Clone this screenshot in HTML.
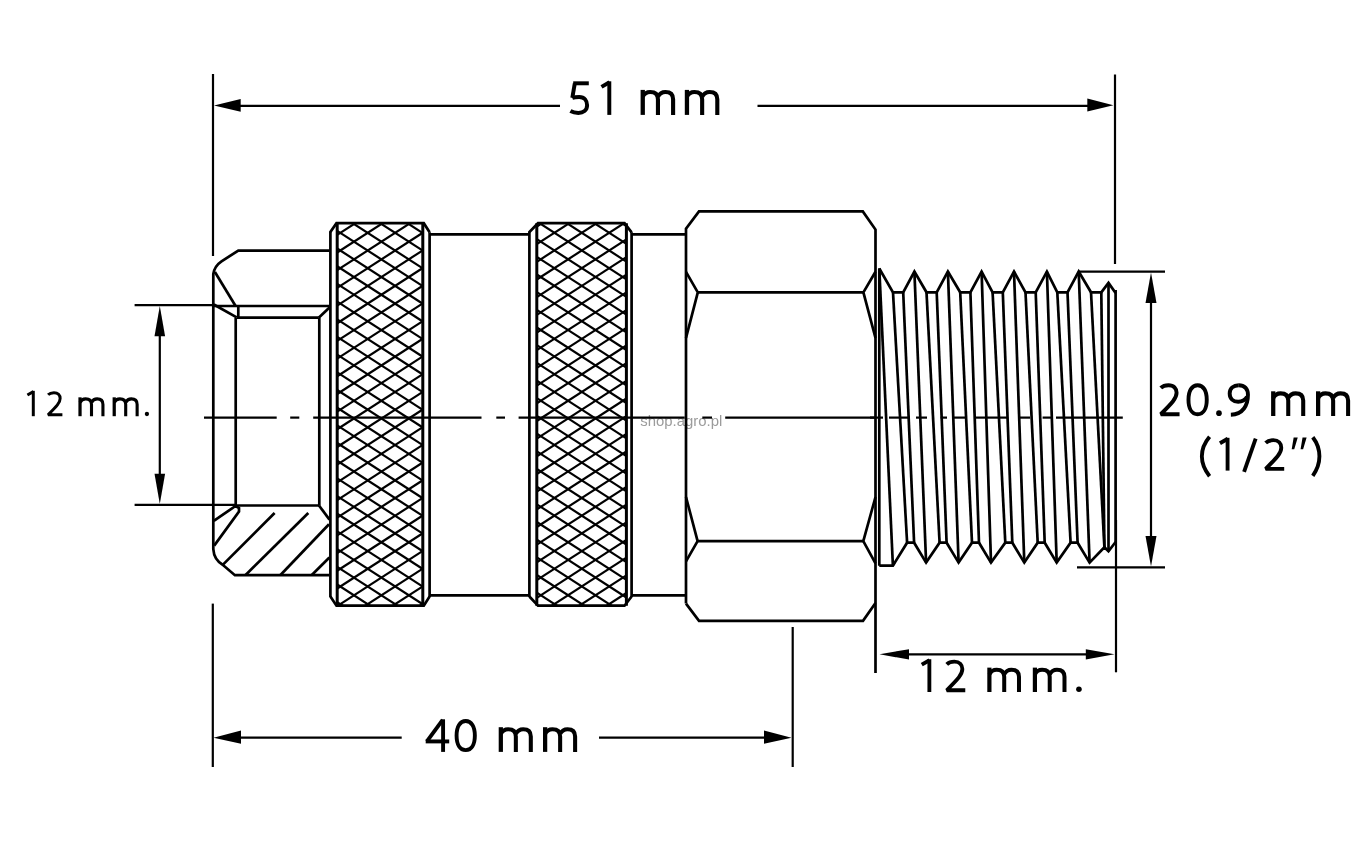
<!DOCTYPE html>
<html><head><meta charset="utf-8"><style>
html,body{margin:0;padding:0;background:#fff;}
svg{display:block;} .wm{will-change:transform;}
text{font-family:"Liberation Sans",sans-serif;fill:#000;}
</style></head><body>
<svg width="1363" height="845" viewBox="0 0 1363 845">
<rect width="1363" height="845" fill="#fff"/>
<g class="wm" opacity="0.995"><text x="640.3" y="425.5" textLength="82" lengthAdjust="spacingAndGlyphs" font-size="14.2" style="fill:#9c9c9c">shop.agro.pl</text></g>
<g stroke="#000" stroke-linecap="butt" stroke-linejoin="miter" fill="none">
<path d="M329.5,250.6 L238.3,250.6 L221.5,261.3 Q214.5,266 213.3,274 L213.3,549.2 Q214,560 223,565 L234.9,575.2 L329.5,575.2" stroke-width="2.7" fill="none"/>
<line x1="214.9" y1="272.0" x2="235.6" y2="306.0" stroke-width="2.7"/>
<line x1="213.3" y1="306.0" x2="329.5" y2="306.0" stroke-width="2.7"/>
<line x1="213.8" y1="304.5" x2="236.7" y2="317.4" stroke-width="2.7"/>
<line x1="238.3" y1="306.0" x2="238.3" y2="318.5" stroke-width="2.7"/>
<line x1="236.7" y1="317.7" x2="318.7" y2="317.7" stroke-width="2.7"/>
<line x1="318.7" y1="317.7" x2="329.5" y2="307.5" stroke-width="2.7"/>
<line x1="235.7" y1="317.7" x2="235.7" y2="505.5" stroke-width="2.7"/>
<line x1="319.3" y1="317.7" x2="319.3" y2="505.5" stroke-width="2.7"/>
<line x1="235.5" y1="505.5" x2="319.0" y2="505.5" stroke-width="2.7"/>
<line x1="319.0" y1="505.5" x2="329.5" y2="519.6" stroke-width="2.7"/>
<path d="M213.8,520.8 L235.5,506.0 L239.0,508.0 L239.0,511.5 L214.2,545.6" stroke-width="2.7" fill="none"/>
<line x1="223.0" y1="564.6" x2="274.6" y2="513.0" stroke-width="2.7"/>
<line x1="245.6" y1="575.0" x2="308.3" y2="513.0" stroke-width="2.7"/>
<line x1="280.5" y1="575.0" x2="329.0" y2="524.3" stroke-width="2.7"/>
<line x1="311.8" y1="575.0" x2="329.4" y2="557.5" stroke-width="2.7"/>
<path d="M330.4,232.3 L330.4,232.0 L336.5,223.2 L423.8,223.2 L429.6,232.3 L429.6,232.3" stroke-width="2.7" fill="none"/>
<line x1="330.4" y1="232.0" x2="330.4" y2="597.0" stroke-width="2.7"/>
<line x1="429.6" y1="232.3" x2="429.6" y2="597.0" stroke-width="2.7"/>
<path d="M330.4,596.5 L336.5,605.7 L423.8,605.7 L429.6,596.5" stroke-width="2.7" fill="none"/>
<line x1="337.2" y1="223.2" x2="337.2" y2="605.7" stroke-width="3.0"/>
<line x1="422.8" y1="223.2" x2="422.8" y2="605.7" stroke-width="3.0"/>
<clipPath id="c381"><rect x="337.2" y="223.2" width="85.60000000000002" height="382.50000000000006"/></clipPath>
<g clip-path="url(#c381)">
<line x1="337.2" y1="177.8" x2="422.8" y2="233.1" stroke-width="2.2"/>
<line x1="337.2" y1="234.9" x2="422.8" y2="179.6" stroke-width="2.2"/>
<line x1="337.2" y1="195.5" x2="422.8" y2="250.7" stroke-width="2.2"/>
<line x1="337.2" y1="252.5" x2="422.8" y2="197.3" stroke-width="2.2"/>
<line x1="337.2" y1="213.2" x2="422.8" y2="268.4" stroke-width="2.2"/>
<line x1="337.2" y1="270.2" x2="422.8" y2="215.0" stroke-width="2.2"/>
<line x1="337.2" y1="230.9" x2="422.8" y2="286.1" stroke-width="2.2"/>
<line x1="337.2" y1="287.9" x2="422.8" y2="232.7" stroke-width="2.2"/>
<line x1="337.2" y1="248.5" x2="422.8" y2="303.8" stroke-width="2.2"/>
<line x1="337.2" y1="305.6" x2="422.8" y2="250.3" stroke-width="2.2"/>
<line x1="337.2" y1="266.2" x2="422.8" y2="321.5" stroke-width="2.2"/>
<line x1="337.2" y1="323.3" x2="422.8" y2="268.0" stroke-width="2.2"/>
<line x1="337.2" y1="283.9" x2="422.8" y2="339.1" stroke-width="2.2"/>
<line x1="337.2" y1="340.9" x2="422.8" y2="285.7" stroke-width="2.2"/>
<line x1="337.2" y1="301.6" x2="422.8" y2="356.8" stroke-width="2.2"/>
<line x1="337.2" y1="358.6" x2="422.8" y2="303.4" stroke-width="2.2"/>
<line x1="337.2" y1="319.3" x2="422.8" y2="374.5" stroke-width="2.2"/>
<line x1="337.2" y1="376.3" x2="422.8" y2="321.1" stroke-width="2.2"/>
<line x1="337.2" y1="336.9" x2="422.8" y2="392.2" stroke-width="2.2"/>
<line x1="337.2" y1="394.0" x2="422.8" y2="338.7" stroke-width="2.2"/>
<line x1="337.2" y1="354.6" x2="422.8" y2="409.9" stroke-width="2.2"/>
<line x1="337.2" y1="411.7" x2="422.8" y2="356.4" stroke-width="2.2"/>
<line x1="337.2" y1="372.3" x2="422.8" y2="427.5" stroke-width="2.2"/>
<line x1="337.2" y1="429.3" x2="422.8" y2="374.1" stroke-width="2.2"/>
<line x1="337.2" y1="390.0" x2="422.8" y2="445.2" stroke-width="2.2"/>
<line x1="337.2" y1="447.0" x2="422.8" y2="391.8" stroke-width="2.2"/>
<line x1="337.2" y1="407.7" x2="422.8" y2="462.9" stroke-width="2.2"/>
<line x1="337.2" y1="464.7" x2="422.8" y2="409.5" stroke-width="2.2"/>
<line x1="337.2" y1="425.3" x2="422.8" y2="480.6" stroke-width="2.2"/>
<line x1="337.2" y1="482.4" x2="422.8" y2="427.1" stroke-width="2.2"/>
<line x1="337.2" y1="443.0" x2="422.8" y2="498.3" stroke-width="2.2"/>
<line x1="337.2" y1="500.1" x2="422.8" y2="444.8" stroke-width="2.2"/>
<line x1="337.2" y1="460.7" x2="422.8" y2="515.9" stroke-width="2.2"/>
<line x1="337.2" y1="517.7" x2="422.8" y2="462.5" stroke-width="2.2"/>
<line x1="337.2" y1="478.4" x2="422.8" y2="533.6" stroke-width="2.2"/>
<line x1="337.2" y1="535.4" x2="422.8" y2="480.2" stroke-width="2.2"/>
<line x1="337.2" y1="496.1" x2="422.8" y2="551.3" stroke-width="2.2"/>
<line x1="337.2" y1="553.1" x2="422.8" y2="497.9" stroke-width="2.2"/>
<line x1="337.2" y1="513.7" x2="422.8" y2="569.0" stroke-width="2.2"/>
<line x1="337.2" y1="570.8" x2="422.8" y2="515.5" stroke-width="2.2"/>
<line x1="337.2" y1="531.4" x2="422.8" y2="586.7" stroke-width="2.2"/>
<line x1="337.2" y1="588.5" x2="422.8" y2="533.2" stroke-width="2.2"/>
<line x1="337.2" y1="549.1" x2="422.8" y2="604.3" stroke-width="2.2"/>
<line x1="337.2" y1="606.1" x2="422.8" y2="550.9" stroke-width="2.2"/>
<line x1="337.2" y1="566.8" x2="422.8" y2="622.0" stroke-width="2.2"/>
<line x1="337.2" y1="623.8" x2="422.8" y2="568.6" stroke-width="2.2"/>
<line x1="337.2" y1="584.5" x2="422.8" y2="639.7" stroke-width="2.2"/>
<line x1="337.2" y1="641.5" x2="422.8" y2="586.3" stroke-width="2.2"/>
<line x1="337.2" y1="602.1" x2="422.8" y2="657.4" stroke-width="2.2"/>
<line x1="337.2" y1="659.2" x2="422.8" y2="603.9" stroke-width="2.2"/>
</g>
<path d="M529.4,232.3 L529.4,232.0 L538.0,223.2 L624.5,223.2 L631.6,232.3 L631.6,232.3" stroke-width="2.7" fill="none"/>
<line x1="529.4" y1="232.0" x2="529.4" y2="597.0" stroke-width="2.7"/>
<line x1="631.6" y1="232.3" x2="631.6" y2="597.0" stroke-width="2.7"/>
<path d="M529.4,596.5 L538.0,605.7 L624.5,605.7 L631.6,596.5" stroke-width="2.7" fill="none"/>
<line x1="536.8" y1="223.2" x2="536.8" y2="605.7" stroke-width="3.0"/>
<line x1="626.4" y1="223.2" x2="626.4" y2="605.7" stroke-width="3.0"/>
<clipPath id="c581"><rect x="536.8" y="223.2" width="89.60000000000002" height="382.50000000000006"/></clipPath>
<g clip-path="url(#c581)">
<line x1="536.8" y1="168.4" x2="626.4" y2="226.2" stroke-width="2.2"/>
<line x1="536.8" y1="226.5" x2="626.4" y2="168.7" stroke-width="2.2"/>
<line x1="536.8" y1="186.1" x2="626.4" y2="243.9" stroke-width="2.2"/>
<line x1="536.8" y1="244.2" x2="626.4" y2="186.3" stroke-width="2.2"/>
<line x1="536.8" y1="203.8" x2="626.4" y2="261.6" stroke-width="2.2"/>
<line x1="536.8" y1="261.8" x2="626.4" y2="204.0" stroke-width="2.2"/>
<line x1="536.8" y1="221.4" x2="626.4" y2="279.3" stroke-width="2.2"/>
<line x1="536.8" y1="279.5" x2="626.4" y2="221.7" stroke-width="2.2"/>
<line x1="536.8" y1="239.1" x2="626.4" y2="296.9" stroke-width="2.2"/>
<line x1="536.8" y1="297.2" x2="626.4" y2="239.4" stroke-width="2.2"/>
<line x1="536.8" y1="256.8" x2="626.4" y2="314.6" stroke-width="2.2"/>
<line x1="536.8" y1="314.9" x2="626.4" y2="257.1" stroke-width="2.2"/>
<line x1="536.8" y1="274.5" x2="626.4" y2="332.3" stroke-width="2.2"/>
<line x1="536.8" y1="332.6" x2="626.4" y2="274.7" stroke-width="2.2"/>
<line x1="536.8" y1="292.2" x2="626.4" y2="350.0" stroke-width="2.2"/>
<line x1="536.8" y1="350.2" x2="626.4" y2="292.4" stroke-width="2.2"/>
<line x1="536.8" y1="309.8" x2="626.4" y2="367.7" stroke-width="2.2"/>
<line x1="536.8" y1="367.9" x2="626.4" y2="310.1" stroke-width="2.2"/>
<line x1="536.8" y1="327.5" x2="626.4" y2="385.3" stroke-width="2.2"/>
<line x1="536.8" y1="385.6" x2="626.4" y2="327.8" stroke-width="2.2"/>
<line x1="536.8" y1="345.2" x2="626.4" y2="403.0" stroke-width="2.2"/>
<line x1="536.8" y1="403.3" x2="626.4" y2="345.5" stroke-width="2.2"/>
<line x1="536.8" y1="362.9" x2="626.4" y2="420.7" stroke-width="2.2"/>
<line x1="536.8" y1="421.0" x2="626.4" y2="363.1" stroke-width="2.2"/>
<line x1="536.8" y1="380.6" x2="626.4" y2="438.4" stroke-width="2.2"/>
<line x1="536.8" y1="438.6" x2="626.4" y2="380.8" stroke-width="2.2"/>
<line x1="536.8" y1="398.2" x2="626.4" y2="456.1" stroke-width="2.2"/>
<line x1="536.8" y1="456.3" x2="626.4" y2="398.5" stroke-width="2.2"/>
<line x1="536.8" y1="415.9" x2="626.4" y2="473.7" stroke-width="2.2"/>
<line x1="536.8" y1="474.0" x2="626.4" y2="416.2" stroke-width="2.2"/>
<line x1="536.8" y1="433.6" x2="626.4" y2="491.4" stroke-width="2.2"/>
<line x1="536.8" y1="491.7" x2="626.4" y2="433.9" stroke-width="2.2"/>
<line x1="536.8" y1="451.3" x2="626.4" y2="509.1" stroke-width="2.2"/>
<line x1="536.8" y1="509.4" x2="626.4" y2="451.5" stroke-width="2.2"/>
<line x1="536.8" y1="469.0" x2="626.4" y2="526.8" stroke-width="2.2"/>
<line x1="536.8" y1="527.0" x2="626.4" y2="469.2" stroke-width="2.2"/>
<line x1="536.8" y1="486.6" x2="626.4" y2="544.5" stroke-width="2.2"/>
<line x1="536.8" y1="544.7" x2="626.4" y2="486.9" stroke-width="2.2"/>
<line x1="536.8" y1="504.3" x2="626.4" y2="562.1" stroke-width="2.2"/>
<line x1="536.8" y1="562.4" x2="626.4" y2="504.6" stroke-width="2.2"/>
<line x1="536.8" y1="522.0" x2="626.4" y2="579.8" stroke-width="2.2"/>
<line x1="536.8" y1="580.1" x2="626.4" y2="522.3" stroke-width="2.2"/>
<line x1="536.8" y1="539.7" x2="626.4" y2="597.5" stroke-width="2.2"/>
<line x1="536.8" y1="597.8" x2="626.4" y2="539.9" stroke-width="2.2"/>
<line x1="536.8" y1="557.4" x2="626.4" y2="615.2" stroke-width="2.2"/>
<line x1="536.8" y1="615.4" x2="626.4" y2="557.6" stroke-width="2.2"/>
<line x1="536.8" y1="575.0" x2="626.4" y2="632.9" stroke-width="2.2"/>
<line x1="536.8" y1="633.1" x2="626.4" y2="575.3" stroke-width="2.2"/>
<line x1="536.8" y1="592.7" x2="626.4" y2="650.5" stroke-width="2.2"/>
<line x1="536.8" y1="650.8" x2="626.4" y2="593.0" stroke-width="2.2"/>
<line x1="536.8" y1="610.4" x2="626.4" y2="668.2" stroke-width="2.2"/>
<line x1="536.8" y1="668.5" x2="626.4" y2="610.7" stroke-width="2.2"/>
</g>
<line x1="429.6" y1="234.3" x2="529.4" y2="234.3" stroke-width="2.7"/>
<line x1="631.6" y1="234.3" x2="686.0" y2="234.3" stroke-width="2.7"/>
<line x1="429.6" y1="595.3" x2="529.4" y2="595.3" stroke-width="2.7"/>
<line x1="631.6" y1="595.3" x2="686.0" y2="595.3" stroke-width="2.7"/>
<path d="M686.0,603.6 L686.0,228.7 L699.0,211.4 L862.8,211.4 L875.5,229.6 L875.5,673.0" stroke-width="2.7" fill="none"/>
<path d="M686.0,603.6 L699.0,620.8 L863.0,620.8 L875.5,603.0" stroke-width="2.7" fill="none"/>
<line x1="697.8" y1="292.3" x2="863.6" y2="292.3" stroke-width="2.7"/>
<line x1="697.8" y1="541.1" x2="863.3" y2="541.1" stroke-width="2.7"/>
<path d="M686.0,271.8 L697.8,292.4 L686.0,338.0" stroke-width="2.7" fill="none"/>
<path d="M875.5,271.8 L863.4,292.4 L875.5,338.0" stroke-width="2.7" fill="none"/>
<path d="M686.0,497.0 L697.6,541.1 L686.0,561.4" stroke-width="2.7" fill="none"/>
<path d="M875.5,497.0 L863.3,541.1 L875.5,563.3" stroke-width="2.7" fill="none"/>
<path d="M879.3,268.5 L893.0,292.3 L903.2,292.3 L914.4,271.6 L926.5,292.3 L936.7,292.3 L947.9,271.6 L960.2,292.3 L970.4,292.3 L981.6,271.6 L992.6,292.3 L1002.8,292.3 L1014.0,271.6 L1025.5,292.3 L1035.7,292.3 L1046.9,271.6 L1057.3,292.3 L1067.5,292.3 L1078.7,271.6 L1091.0,292.3 L1101.3,292.3 L1108.5,282.9 L1115.6,293.1" stroke-width="2.7" fill="none"/>
<line x1="879.3" y1="268.5" x2="879.3" y2="565.7" stroke-width="2.7"/>
<line x1="1115.6" y1="290.0" x2="1115.6" y2="545.0" stroke-width="2.7"/>
<path d="M879.3,565.7 L892.9,565.7 L907.1,542.7 L914.1,542.7 L926.1,562.6 L939.6,542.7 L946.6,542.7 L958.6,562.6 L972.0,542.7 L979.0,542.7 L991.0,562.6 L1005.3,542.7 L1012.3,542.7 L1024.3,562.6 L1037.7,542.7 L1044.7,542.7 L1056.7,562.6 L1070.6,542.7 L1077.6,542.7 L1089.6,562.6 L1104.4,547.2 L1108.5,551.3 L1115.6,542.0" stroke-width="2.7" fill="none"/>
<line x1="879.3" y1="268.5" x2="892.9" y2="565.7" stroke-width="2.7"/>
<line x1="893.0" y1="292.3" x2="907.1" y2="542.7" stroke-width="2.7"/>
<line x1="903.2" y1="292.3" x2="914.1" y2="542.7" stroke-width="2.7"/>
<line x1="914.4" y1="271.6" x2="926.1" y2="562.6" stroke-width="2.7"/>
<line x1="926.5" y1="292.3" x2="939.6" y2="542.7" stroke-width="2.7"/>
<line x1="936.7" y1="292.3" x2="946.6" y2="542.7" stroke-width="2.7"/>
<line x1="947.9" y1="271.6" x2="958.6" y2="562.6" stroke-width="2.7"/>
<line x1="960.2" y1="292.3" x2="972.0" y2="542.7" stroke-width="2.7"/>
<line x1="970.4" y1="292.3" x2="979.0" y2="542.7" stroke-width="2.7"/>
<line x1="981.6" y1="271.6" x2="991.0" y2="562.6" stroke-width="2.7"/>
<line x1="992.6" y1="292.3" x2="1005.3" y2="542.7" stroke-width="2.7"/>
<line x1="1002.8" y1="292.3" x2="1012.3" y2="542.7" stroke-width="2.7"/>
<line x1="1014.0" y1="271.6" x2="1024.3" y2="562.6" stroke-width="2.7"/>
<line x1="1025.5" y1="292.3" x2="1037.7" y2="542.7" stroke-width="2.7"/>
<line x1="1035.7" y1="292.3" x2="1044.7" y2="542.7" stroke-width="2.7"/>
<line x1="1046.9" y1="271.6" x2="1056.7" y2="562.6" stroke-width="2.7"/>
<line x1="1057.3" y1="292.3" x2="1070.6" y2="542.7" stroke-width="2.7"/>
<line x1="1067.5" y1="292.3" x2="1077.6" y2="542.7" stroke-width="2.7"/>
<line x1="1078.7" y1="271.6" x2="1089.6" y2="562.6" stroke-width="2.7"/>
<line x1="1091.0" y1="292.3" x2="1104.4" y2="547.2" stroke-width="2.7"/>
<line x1="1101.3" y1="292.3" x2="1104.4" y2="547.2" stroke-width="2.7"/>
<line x1="1108.5" y1="282.9" x2="1108.5" y2="551.3" stroke-width="2.7"/>
<line x1="204.0" y1="417.6" x2="276.7" y2="417.6" stroke-width="2.2"/>
<line x1="290.2" y1="417.6" x2="299.3" y2="417.6" stroke-width="2.2"/>
<line x1="313.2" y1="417.6" x2="481.5" y2="417.6" stroke-width="2.2"/>
<line x1="496.3" y1="417.6" x2="505.0" y2="417.6" stroke-width="2.2"/>
<line x1="518.6" y1="417.6" x2="684.7" y2="417.6" stroke-width="2.2"/>
<line x1="702.3" y1="417.6" x2="712.0" y2="417.6" stroke-width="2.2"/>
<line x1="725.2" y1="417.6" x2="876.0" y2="417.6" stroke-width="2.2"/>
<line x1="870.0" y1="417.6" x2="883.0" y2="417.6" stroke-width="2.2"/>
<line x1="889.0" y1="417.6" x2="909.0" y2="417.6" stroke-width="2.2"/>
<line x1="916.0" y1="417.6" x2="927.0" y2="417.6" stroke-width="2.2"/>
<line x1="940.6" y1="417.6" x2="947.0" y2="417.6" stroke-width="2.2"/>
<line x1="954.0" y1="417.6" x2="965.0" y2="417.6" stroke-width="2.2"/>
<line x1="976.0" y1="417.6" x2="1007.0" y2="417.6" stroke-width="2.2"/>
<line x1="1020.0" y1="417.6" x2="1030.0" y2="417.6" stroke-width="2.2"/>
<line x1="1042.6" y1="417.6" x2="1051.0" y2="417.6" stroke-width="2.2"/>
<line x1="1056.0" y1="417.6" x2="1122.8" y2="417.6" stroke-width="2.2"/>
<line x1="213.0" y1="74.0" x2="213.0" y2="256.0" stroke-width="2.2"/>
<line x1="1115.0" y1="74.5" x2="1115.0" y2="264.0" stroke-width="2.2"/>
<line x1="240.0" y1="105.9" x2="560.0" y2="105.9" stroke-width="2.2"/>
<line x1="757.5" y1="105.9" x2="1088.0" y2="105.9" stroke-width="2.2"/>
<path d="M214.0,105.6 L240.7,98.9 L240.7,111.8 Z" stroke="none" fill="#000"/>
<path d="M1113.4,105.2 L1087.3,98.5 L1087.3,111.5 Z" stroke="none" fill="#000"/>
<line x1="134.6" y1="305.1" x2="213.0" y2="305.1" stroke-width="2.2"/>
<line x1="134.6" y1="504.9" x2="236.0" y2="504.9" stroke-width="2.2"/>
<line x1="159.8" y1="335.0" x2="159.8" y2="475.0" stroke-width="2.2"/>
<path d="M159.8,306.0 L154.5,336.2 L165.1,336.2 Z" stroke="none" fill="#000"/>
<path d="M159.8,504.0 L154.5,473.8 L165.1,473.8 Z" stroke="none" fill="#000"/>
<line x1="212.8" y1="603.6" x2="212.8" y2="767.0" stroke-width="2.2"/>
<line x1="792.7" y1="627.0" x2="792.7" y2="767.0" stroke-width="2.2"/>
<line x1="240.0" y1="737.7" x2="401.7" y2="737.7" stroke-width="2.2"/>
<line x1="599.0" y1="737.7" x2="766.0" y2="737.7" stroke-width="2.2"/>
<path d="M213.5,737.7 L241.0,730.6 L241.0,743.8 Z" stroke="none" fill="#000"/>
<path d="M791.5,737.7 L764.0,730.6 L764.0,743.8 Z" stroke="none" fill="#000"/>
<line x1="1116.0" y1="520.0" x2="1116.0" y2="672.3" stroke-width="2.2"/>
<line x1="908.0" y1="654.3" x2="1087.0" y2="654.3" stroke-width="2.2"/>
<path d="M879.5,654.3 L909.0,649.2 L909.0,659.6 Z" stroke="none" fill="#000"/>
<path d="M1114.5,654.3 L1085.8,649.2 L1085.8,659.6 Z" stroke="none" fill="#000"/>
<line x1="1078.0" y1="271.6" x2="1165.0" y2="271.6" stroke-width="2.2"/>
<line x1="1077.0" y1="567.4" x2="1165.0" y2="567.4" stroke-width="2.2"/>
<line x1="1151.0" y1="300.0" x2="1151.0" y2="540.0" stroke-width="2.2"/>
<path d="M1151.0,272.5 L1145.5,303.0 L1156.5,303.0 Z" stroke="none" fill="#000"/>
<path d="M1151.0,566.5 L1145.5,536.0 L1156.5,536.0 Z" stroke="none" fill="#000"/>
</g>
<g transform="translate(569.40,114.90) scale(1.0000)">
<path d="M3.8,-31.6 L19.4,-31.6" fill="none" stroke="#000" stroke-width="3.95" stroke-linejoin="bevel"/>
<path d="M5.4,-31.6 L2.9,-17.0" fill="none" stroke="#000" stroke-width="3.95" stroke-linejoin="bevel"/>
<path d="M2.9,-17.0 C5.2,-17.8 7.6,-17.9 9.8,-17.9 C15.2,-17.9 17.7,-13.9 17.7,-9.6 C17.7,-4.4 13.8,-2.0 9.0,-2.0 C5.9,-2.0 3.3,-2.6 1.0,-3.9" fill="none" stroke="#000" stroke-width="3.95" stroke-linejoin="bevel"/>
</g>
<g transform="translate(599.90,114.90) scale(1.0000)">
<path d="M9.4,0 L9.4,-33.6" fill="none" stroke="#000" stroke-width="3.95" stroke-linejoin="bevel"/>
<path d="M9.6,-32.6 L1.6,-28.0" fill="none" stroke="#000" stroke-width="3.95" stroke-linejoin="bevel"/>
</g>
<g transform="translate(640.60,114.90) scale(1.0000)">
<path d="M2.15,0 L2.15,-25.0" fill="none" stroke="#000" stroke-width="4.3" stroke-linejoin="bevel"/>
<path d="M2.15,-18.2 C4,-22.0 6.8,-22.9 9.6,-22.9 C14.4,-22.9 17.35,-20.6 17.35,-15.6 L17.35,0" fill="none" stroke="#000" stroke-width="4.1" stroke-linejoin="bevel"/>
<path d="M17.35,-18.2 C19.3,-22.0 22,-22.9 24.8,-22.9 C29.6,-22.9 32.5,-20.6 32.5,-15.6 L32.5,0" fill="none" stroke="#000" stroke-width="4.1" stroke-linejoin="bevel"/>
</g>
<g transform="translate(684.80,114.90) scale(1.0000)">
<path d="M2.15,0 L2.15,-25.0" fill="none" stroke="#000" stroke-width="4.3" stroke-linejoin="bevel"/>
<path d="M2.15,-18.2 C4,-22.0 6.8,-22.9 9.6,-22.9 C14.4,-22.9 17.35,-20.6 17.35,-15.6 L17.35,0" fill="none" stroke="#000" stroke-width="4.1" stroke-linejoin="bevel"/>
<path d="M17.35,-18.2 C19.3,-22.0 22,-22.9 24.8,-22.9 C29.6,-22.9 32.5,-20.6 32.5,-15.6 L32.5,0" fill="none" stroke="#000" stroke-width="4.1" stroke-linejoin="bevel"/>
</g>
<g transform="translate(1159.00,416.00) scale(0.9880)">
<path d="M1.8,-28.4 C4,-30.6 6.8,-31.2 9.6,-31.2 C15,-31.2 17.8,-27.8 17.8,-23.5 C17.8,-18 13.5,-13.5 1.8,-1.8 L20.8,-1.8" fill="none" stroke="#000" stroke-width="3.95" stroke-linejoin="bevel"/>
</g>
<g transform="translate(1186.70,416.00) scale(0.9880)">
<path d="M11.05,-31.2 C5.2,-31.2 1.8,-25.5 1.8,-16.5 C1.8,-7.5 5.2,-1.8 11.05,-1.8 C16.9,-1.8 20.3,-7.5 20.3,-16.5 C20.3,-25.5 16.9,-31.2 11.05,-31.2 Z" fill="none" stroke="#000" stroke-width="3.95" stroke-linejoin="bevel"/>
</g>
<g transform="translate(1216.20,416.00) scale(0.9880)">
<circle cx="2.8" cy="-2.9" r="2.85"/>
</g>
<g transform="translate(1227.90,416.00) scale(0.9880)">
<path d="M11.05,-31.2 C5.6,-31.2 1.8,-28 1.8,-22.8 C1.8,-17.6 5.4,-14.4 10.4,-14.4 C14.5,-14.4 17.6,-16.4 19.4,-19.4" fill="none" stroke="#000" stroke-width="3.95" stroke-linejoin="bevel"/>
<path d="M11.05,-31.2 C16.6,-31.2 20.3,-27.6 20.3,-21.4 C20.3,-11 15.4,-1.6 3.0,-1.3" fill="none" stroke="#000" stroke-width="3.95" stroke-linejoin="bevel"/>
</g>
<g transform="translate(1271.10,416.00) scale(0.9880)">
<path d="M2.15,0 L2.15,-25.0" fill="none" stroke="#000" stroke-width="4.3" stroke-linejoin="bevel"/>
<path d="M2.15,-18.2 C4,-22.0 6.8,-22.9 9.6,-22.9 C14.4,-22.9 17.35,-20.6 17.35,-15.6 L17.35,0" fill="none" stroke="#000" stroke-width="4.1" stroke-linejoin="bevel"/>
<path d="M17.35,-18.2 C19.3,-22.0 22,-22.9 24.8,-22.9 C29.6,-22.9 32.5,-20.6 32.5,-15.6 L32.5,0" fill="none" stroke="#000" stroke-width="4.1" stroke-linejoin="bevel"/>
</g>
<g transform="translate(1316.00,416.00) scale(0.9880)">
<path d="M2.15,0 L2.15,-25.0" fill="none" stroke="#000" stroke-width="4.3" stroke-linejoin="bevel"/>
<path d="M2.15,-18.2 C4,-22.0 6.8,-22.9 9.6,-22.9 C14.4,-22.9 17.35,-20.6 17.35,-15.6 L17.35,0" fill="none" stroke="#000" stroke-width="4.1" stroke-linejoin="bevel"/>
<path d="M17.35,-18.2 C19.3,-22.0 22,-22.9 24.8,-22.9 C29.6,-22.9 32.5,-20.6 32.5,-15.6 L32.5,0" fill="none" stroke="#000" stroke-width="4.1" stroke-linejoin="bevel"/>
</g>
<g transform="translate(1200.00,470.60) scale(0.9760)">
<path d="M9.8,-34.6 C4.2,-28 1.9,-21 1.9,-14.6 C1.9,-8.2 4.2,-1.3 9.8,5.8" fill="none" stroke="#000" stroke-width="3.95" stroke-linejoin="bevel"/>
</g>
<g transform="translate(1218.40,470.60) scale(0.9760)">
<path d="M9.4,0 L9.4,-33.6" fill="none" stroke="#000" stroke-width="3.95" stroke-linejoin="bevel"/>
<path d="M9.6,-32.6 L1.6,-28.0" fill="none" stroke="#000" stroke-width="3.95" stroke-linejoin="bevel"/>
</g>
<g transform="translate(1242.40,470.60) scale(0.9760)">
<path d="M13.6,-32.8 L1.7,1.4" fill="none" stroke="#000" stroke-width="3.95" stroke-linejoin="bevel"/>
</g>
<g transform="translate(1263.90,470.60) scale(0.9760)">
<path d="M1.8,-28.4 C4,-30.6 6.8,-31.2 9.6,-31.2 C15,-31.2 17.8,-27.8 17.8,-23.5 C17.8,-18 13.5,-13.5 1.8,-1.8 L20.8,-1.8" fill="none" stroke="#000" stroke-width="3.95" stroke-linejoin="bevel"/>
</g>
<g transform="translate(1291.50,470.60) scale(0.9760)">
<path d="M2.2,-33.8 L6.4,-33.8 L2.8,-21.8 L0.2,-21.8 Z M11.3,-33.8 L15.5,-33.8 L11.9,-21.8 L9.3,-21.8 Z"/>
</g>
<g transform="translate(1312.20,470.60) scale(0.9760)">
<path d="M0.6,-34.2 C5.4,-28 7.4,-21 7.4,-14.6 C7.4,-8.2 5.4,-1.3 0.6,5.3" fill="none" stroke="#000" stroke-width="3.95" stroke-linejoin="bevel"/>
</g>
<g transform="translate(26.20,416.20) scale(0.7550)">
<path d="M9.4,0 L9.4,-33.6" fill="none" stroke="#000" stroke-width="3.95" stroke-linejoin="bevel"/>
<path d="M9.6,-32.6 L1.6,-28.0" fill="none" stroke="#000" stroke-width="3.95" stroke-linejoin="bevel"/>
</g>
<g transform="translate(46.70,416.20) scale(0.7550)">
<path d="M1.8,-28.4 C4,-30.6 6.8,-31.2 9.6,-31.2 C15,-31.2 17.8,-27.8 17.8,-23.5 C17.8,-18 13.5,-13.5 1.8,-1.8 L20.8,-1.8" fill="none" stroke="#000" stroke-width="3.95" stroke-linejoin="bevel"/>
</g>
<g transform="translate(78.40,416.20) scale(0.7550)">
<path d="M2.15,0 L2.15,-25.0" fill="none" stroke="#000" stroke-width="4.3" stroke-linejoin="bevel"/>
<path d="M2.15,-18.2 C4,-22.0 6.8,-22.9 9.6,-22.9 C14.4,-22.9 17.35,-20.6 17.35,-15.6 L17.35,0" fill="none" stroke="#000" stroke-width="4.1" stroke-linejoin="bevel"/>
<path d="M17.35,-18.2 C19.3,-22.0 22,-22.9 24.8,-22.9 C29.6,-22.9 32.5,-20.6 32.5,-15.6 L32.5,0" fill="none" stroke="#000" stroke-width="4.1" stroke-linejoin="bevel"/>
</g>
<g transform="translate(112.60,416.20) scale(0.7550)">
<path d="M2.15,0 L2.15,-25.0" fill="none" stroke="#000" stroke-width="4.3" stroke-linejoin="bevel"/>
<path d="M2.15,-18.2 C4,-22.0 6.8,-22.9 9.6,-22.9 C14.4,-22.9 17.35,-20.6 17.35,-15.6 L17.35,0" fill="none" stroke="#000" stroke-width="4.1" stroke-linejoin="bevel"/>
<path d="M17.35,-18.2 C19.3,-22.0 22,-22.9 24.8,-22.9 C29.6,-22.9 32.5,-20.6 32.5,-15.6 L32.5,0" fill="none" stroke="#000" stroke-width="4.1" stroke-linejoin="bevel"/>
</g>
<g transform="translate(144.80,416.20) scale(0.7550)">
<circle cx="2.8" cy="-2.9" r="2.85"/>
</g>
<g transform="translate(920.20,692.00) scale(0.9750)">
<path d="M9.4,0 L9.4,-33.6" fill="none" stroke="#000" stroke-width="3.95" stroke-linejoin="bevel"/>
<path d="M9.6,-32.6 L1.6,-28.0" fill="none" stroke="#000" stroke-width="3.95" stroke-linejoin="bevel"/>
</g>
<g transform="translate(945.00,692.00) scale(0.9750)">
<path d="M1.8,-28.4 C4,-30.6 6.8,-31.2 9.6,-31.2 C15,-31.2 17.8,-27.8 17.8,-23.5 C17.8,-18 13.5,-13.5 1.8,-1.8 L20.8,-1.8" fill="none" stroke="#000" stroke-width="3.95" stroke-linejoin="bevel"/>
</g>
<g transform="translate(987.30,692.00) scale(0.9750)">
<path d="M2.15,0 L2.15,-25.0" fill="none" stroke="#000" stroke-width="4.3" stroke-linejoin="bevel"/>
<path d="M2.15,-18.2 C4,-22.0 6.8,-22.9 9.6,-22.9 C14.4,-22.9 17.35,-20.6 17.35,-15.6 L17.35,0" fill="none" stroke="#000" stroke-width="4.1" stroke-linejoin="bevel"/>
<path d="M17.35,-18.2 C19.3,-22.0 22,-22.9 24.8,-22.9 C29.6,-22.9 32.5,-20.6 32.5,-15.6 L32.5,0" fill="none" stroke="#000" stroke-width="4.1" stroke-linejoin="bevel"/>
</g>
<g transform="translate(1032.80,692.00) scale(0.9750)">
<path d="M2.15,0 L2.15,-25.0" fill="none" stroke="#000" stroke-width="4.3" stroke-linejoin="bevel"/>
<path d="M2.15,-18.2 C4,-22.0 6.8,-22.9 9.6,-22.9 C14.4,-22.9 17.35,-20.6 17.35,-15.6 L17.35,0" fill="none" stroke="#000" stroke-width="4.1" stroke-linejoin="bevel"/>
<path d="M17.35,-18.2 C19.3,-22.0 22,-22.9 24.8,-22.9 C29.6,-22.9 32.5,-20.6 32.5,-15.6 L32.5,0" fill="none" stroke="#000" stroke-width="4.1" stroke-linejoin="bevel"/>
</g>
<g transform="translate(1076.20,692.00) scale(0.9750)">
<circle cx="2.8" cy="-2.9" r="2.85"/>
</g>
<g transform="translate(425.50,751.90) scale(0.9880)">
<path d="M17.8,0 L17.8,-33" fill="none" stroke="#000" stroke-width="3.95" stroke-linejoin="bevel"/>
<path d="M17.4,-32.4 L1.4,-10.6" fill="none" stroke="#000" stroke-width="3.95" stroke-linejoin="bevel"/>
<path d="M0.2,-10.6 L24.0,-10.6" fill="none" stroke="#000" stroke-width="3.95" stroke-linejoin="bevel"/>
</g>
<g transform="translate(454.80,751.90) scale(0.9880)">
<path d="M11.05,-31.2 C5.2,-31.2 1.8,-25.5 1.8,-16.5 C1.8,-7.5 5.2,-1.8 11.05,-1.8 C16.9,-1.8 20.3,-7.5 20.3,-16.5 C20.3,-25.5 16.9,-31.2 11.05,-31.2 Z" fill="none" stroke="#000" stroke-width="3.95" stroke-linejoin="bevel"/>
</g>
<g transform="translate(498.70,751.90) scale(0.9880)">
<path d="M2.15,0 L2.15,-25.0" fill="none" stroke="#000" stroke-width="4.3" stroke-linejoin="bevel"/>
<path d="M2.15,-18.2 C4,-22.0 6.8,-22.9 9.6,-22.9 C14.4,-22.9 17.35,-20.6 17.35,-15.6 L17.35,0" fill="none" stroke="#000" stroke-width="4.1" stroke-linejoin="bevel"/>
<path d="M17.35,-18.2 C19.3,-22.0 22,-22.9 24.8,-22.9 C29.6,-22.9 32.5,-20.6 32.5,-15.6 L32.5,0" fill="none" stroke="#000" stroke-width="4.1" stroke-linejoin="bevel"/>
</g>
<g transform="translate(543.00,751.90) scale(0.9880)">
<path d="M2.15,0 L2.15,-25.0" fill="none" stroke="#000" stroke-width="4.3" stroke-linejoin="bevel"/>
<path d="M2.15,-18.2 C4,-22.0 6.8,-22.9 9.6,-22.9 C14.4,-22.9 17.35,-20.6 17.35,-15.6 L17.35,0" fill="none" stroke="#000" stroke-width="4.1" stroke-linejoin="bevel"/>
<path d="M17.35,-18.2 C19.3,-22.0 22,-22.9 24.8,-22.9 C29.6,-22.9 32.5,-20.6 32.5,-15.6 L32.5,0" fill="none" stroke="#000" stroke-width="4.1" stroke-linejoin="bevel"/>
</g>
</svg>
</body></html>
